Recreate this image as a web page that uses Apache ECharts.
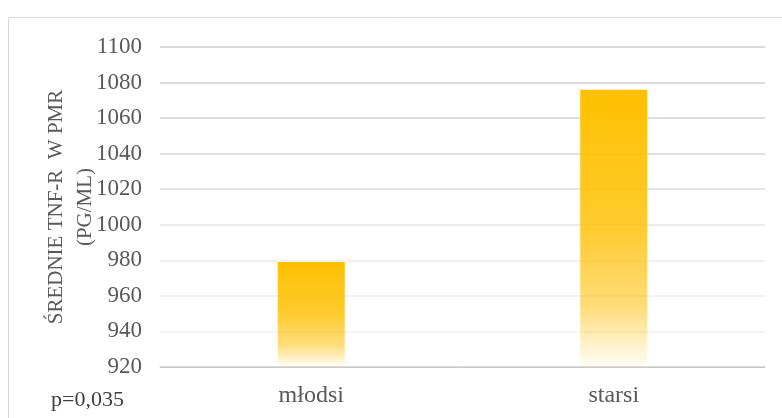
<!DOCTYPE html>
<html>
<head>
<meta charset="utf-8">
<script src="https://cdn.jsdelivr.net/npm/echarts@6/dist/echarts.min.js"></script>
<style>
  html, body { margin: 0; padding: 0; background: #fff; }
  #chart { width: 782px; height: 418px; }
</style>
</head>
<body>
<div id="chart"></div>
<script>
// Mean TNF-R in PMR by age group
const groups = ['młodsi', 'starsi'];
const meanTnfR = [979, 1076];
const axisTitle = 'ŚREDNIE TNF-R  W PMR\n(PG/ML)';
const pValueNote = 'p=0,035';

const chart = echarts.init(document.getElementById('chart'));
const serif = '"Liberation Serif", "Times New Roman", serif';

chart.setOption({
  animation: false,
  grid: { left: 160, right: 17, top: 47, bottom: 51 },
  xAxis: {
    type: 'category',
    data: groups,
    axisTick: { show: false },
    axisLine: { lineStyle: { color: '#c8c8c8', width: 1 } },
    axisLabel: { fontFamily: serif, fontSize: 24, color: '#595959', margin: 17 }
  },
  yAxis: {
    type: 'value',
    min: 920,
    max: 1100,
    interval: 20,
    name: axisTitle,
    nameLocation: 'middle',
    nameRotate: 90,
    nameGap: 60,
    nameMoveOverlap: false,
    nameTextStyle: { fontFamily: serif, fontSize: 21, color: '#595959', lineHeight: 29 },
    axisLine: { show: false },
    axisTick: { show: false },
    axisLabel: {
      fontFamily: serif, fontSize: 23, color: '#595959', margin: 18,
      formatter: v => String(v)
    },
    splitLine: {
      lineStyle: {
        width: 1.5,
        color: ['#d0d0d0', '#f0f0f0', '#eeeeee', '#ebebeb', '#e6e6e6', '#dcdcdc', '#d6d6d6', '#d2d2d2', '#cecece', '#cccccc']
      }
    }
  },
  series: [{
    type: 'bar',
    data: meanTnfR,
    barWidth: 67,
    itemStyle: {
      color: new echarts.graphic.LinearGradient(0, 0, 0, 1, [
        { offset: 0, color: 'rgba(255,192,0,1)' },
        { offset: 0.5, color: 'rgba(255,194,10,0.85)' },
        { offset: 0.78, color: 'rgba(255,196,30,0.6)' },
        { offset: 1, color: 'rgba(255,200,40,0.04)' }
      ])
    }
  }],
  graphic: [
    {
      type: 'rect',
      shape: { x: 8.5, y: 17.5, width: 790, height: 420 },
      style: { fill: 'none', stroke: '#d9d9d9', lineWidth: 1 },
      silent: true
    },
    {
      type: 'text',
      left: 51,
      top: 389,
      style: { text: pValueNote, font: '22px ' + serif, fill: '#404040' }
    }
  ]
});
</script>
</body>
</html>
